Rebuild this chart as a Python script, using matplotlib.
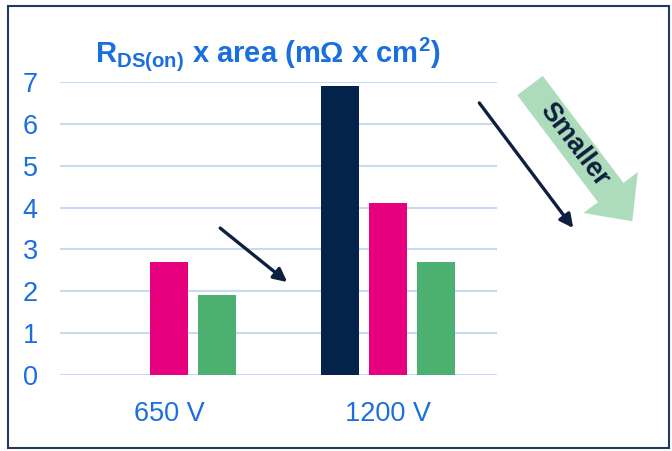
import numpy as np
import matplotlib
matplotlib.use("Agg")
import matplotlib.pyplot as plt
from matplotlib.patches import Polygon, Rectangle
from matplotlib.transforms import IdentityTransform

# Data
categories = ["650 V", "1200 V"]
series_names = ["Gen A", "Gen B", "Gen C"]
values_gen_a = [0.0, 6.9]
values_gen_b = [2.7, 4.1]
values_gen_c = [1.9, 2.7]
y_ticks = [0, 1, 2, 3, 4, 5, 6, 7]

bar_colors = ["#03234b", "#e6007e", "#4cb170"]
tick_blue = "#1a6fdf"
navy = "#0e1f3f"

plt.rcParams["font.family"] = ["Liberation Sans", "DejaVu Sans"]
plt.rcParams["mathtext.fontset"] = "custom"
plt.rcParams["mathtext.rm"] = "Liberation Sans:bold"
plt.rcParams["mathtext.it"] = "Liberation Sans:bold"
plt.rcParams["mathtext.bf"] = "Liberation Sans:bold"

W, H = 672, 451
fig = plt.figure(figsize=(W / 100, H / 100), dpi=100)
ax = fig.add_axes([60 / W, 76 / H, 437 / W, 293 / H])

x = np.arange(len(categories))
bw = 0.174
step = 0.22
for i, vals in enumerate([values_gen_a, values_gen_b, values_gen_c]):
    ax.bar(x + (i - 1) * step, vals, width=bw, color=bar_colors[i],
           label=series_names[i], zorder=3)

ax.set_xlim(-0.5, 1.5)
ax.set_ylim(0, 7)
ax.set_yticks(y_ticks)
ax.set_xticks(x)
ax.set_xticklabels(categories)
ax.yaxis.grid(True, color="#c6dbf3", lw=1.5, zorder=0)
ax.set_axisbelow(True)
for s in ax.spines.values():
    s.set_visible(False)
ax.tick_params(axis="both", length=0, labelcolor=tick_blue, labelsize=19.5)
ax.tick_params(axis="y", pad=16)
ax.tick_params(axis="x", pad=19)

# Title
fig.text(268 / W, 1 - 54 / H,
         r"R$_{\mathregular{DS(on)}}$ x area (m$\mathregular{\Omega}$ x cm$^{\mathregular{2}}$)",
         ha="center", va="center", fontsize=21, fontweight="bold",
         color=tick_blue)

# Trend arrows
arrow_kw = dict(arrowstyle="-|>", lw=2.4, color=navy, mutation_scale=20,
                shrinkA=0, shrinkB=0)
ax.annotate("", xy=(0.54, 2.22), xytext=(0.233, 3.51),
            arrowprops=arrow_kw, annotation_clip=False)
ax.annotate("", xy=(1.849, 3.51), xytext=(1.419, 6.50),
            arrowprops=arrow_kw, annotation_clip=False)

# "Smaller" block arrow (pixel coordinates, origin top-left)
start = np.array([530.0, 85.5])
ang = np.deg2rad(53.0)
d = np.array([np.cos(ang), np.sin(ang)])
n = np.array([d[1], -d[0]])
w_shaft, w_head, L_shaft, L_tot = 16, 34, 134, 170
pts = [start + w_shaft * n,
       start + w_shaft * n + L_shaft * d,
       start + w_head * n + L_shaft * d,
       start + L_tot * d,
       start - w_head * n + L_shaft * d,
       start - w_shaft * n + L_shaft * d,
       start - w_shaft * n]
pts = np.array([[p[0], H - p[1]] for p in pts])
fig.add_artist(Polygon(pts, closed=True, facecolor="#5dbb7b", alpha=0.5,
                       edgecolor="none", transform=IdentityTransform()))
fig.text(574 / W, 1 - 145 / H, "Smaller", rotation=-53, ha="center", va="center",
         fontsize=19.5, fontweight="bold", color=navy, rotation_mode="anchor")

# Frame
fig.add_artist(Rectangle((8 / W, 3 / H), 661 / W, 442 / H, transform=fig.transFigure,
                         fill=False, edgecolor="#203864", lw=1.5))

fig.savefig("out.png", dpi=100)
